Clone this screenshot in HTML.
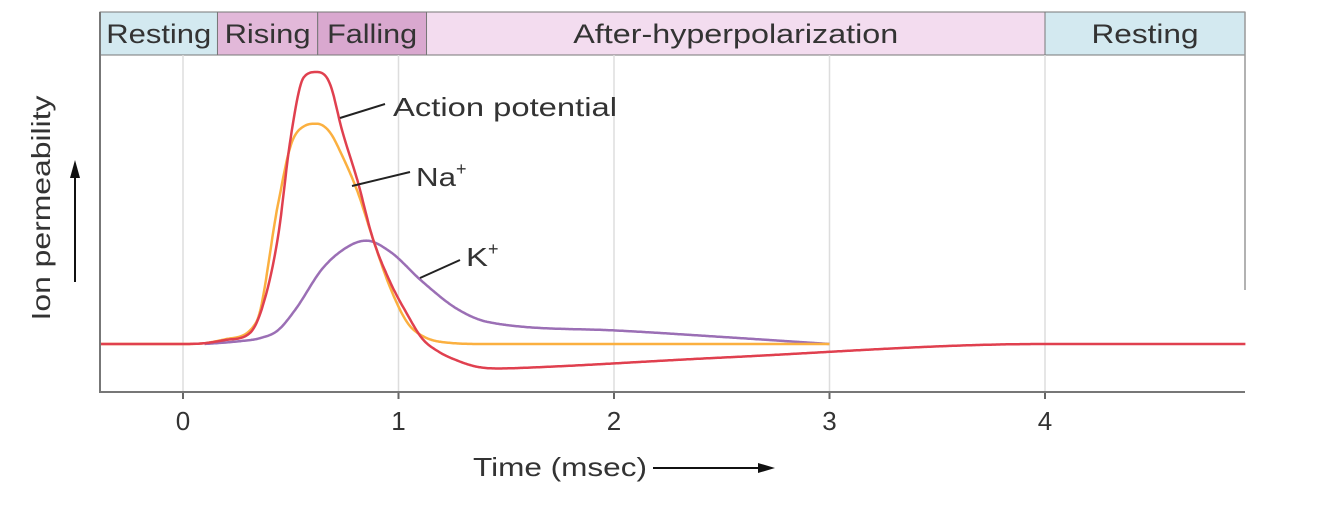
<!DOCTYPE html>
<html><head><meta charset="utf-8"><style>
body{margin:0;background:#fff;width:1334px;height:518px;overflow:hidden}
svg{display:block;font-family:"Liberation Sans",sans-serif}
</style></head><body>
<svg id="chart" width="1334" height="518" viewBox="0 0 1334 518">
<g id="bands"></g>
<g id="grid"></g>
<g id="series"></g>
<g id="ann"></g>
<g id="axes"></g>
</svg>
<script>
const phaseNames=["Resting","Rising","Falling","After-hyperpolarization","Resting"];
const phaseStart=[-0.385,0.16,0.625,1.13,4.0];
const phaseEnd=[0.16,0.625,1.13,4.0,4.93];
const phaseColors=["#d3e9f0","#e2b8d9","#d9a8cf","#f3dcef","#d3e9f0"];
const phaseTextW=[105,86,90,325,107];
const xTicks=[0,1,2,3,4];
const apT=[-0.385,0,0.1,0.2,0.31,0.37,0.44,0.50,0.56,0.62,0.68,0.74,0.81,0.88,0.96,1.04,1.11,1.19,1.27,1.36,1.46,1.6,2.5,4.0,4.93];
const apV=[0,0,0.3,1.5,4,14,39,76,98,100,96,78,60,39,23,11,2,-3,-6,-8.3,-9,-8.7,-5,0,0];
const naT=[-0.385,0,0.1,0.2,0.34,0.44,0.50,0.56,0.62,0.68,0.74,0.81,0.88,0.96,1.04,1.11,1.24,1.4,3.0];
const naV=[0,0,0.3,1.8,8,51,73,80,81,78,69,56,39,21,8,3,0.4,0,0];
const kT=[0.1,0.26,0.36,0.44,0.52,0.65,0.77,0.85,0.96,1.11,1.27,1.42,2.0,2.5,3.0];
const kV=[0,1,2.2,5,12.5,28,36,38,34,23,13,8,5,2.6,0];
const NS="http://www.w3.org/2000/svg";
const X=t=>183+t*215.5, Y=v=>344-v*2.72;
function el(tag,attrs,parent,txt){const e=document.createElementNS(NS,tag);for(const k in attrs)e.setAttribute(k,attrs[k]);if(txt!==undefined)e.textContent=txt;parent.appendChild(e);return e;}
const bands=document.getElementById('bands');
phaseNames.forEach((n,i)=>{
 const x0=Math.max(100,X(phaseStart[i])),x1=Math.min(1245,X(phaseEnd[i]));
 const r=el('rect',{x:x0,y:12,width:x1-x0,height:43,fill:phaseColors[i],stroke:"#777","stroke-width":1},bands);
 
 
 const t=el('text',{x:(x0+x1)/2,y:43,"text-anchor":"middle","font-size":27,fill:"#333",textLength:phaseTextW[i],lengthAdjust:"spacingAndGlyphs"},bands,n);
 
 
});
const grid=document.getElementById('grid'),axes=document.getElementById('axes');
xTicks.forEach(v=>{
 const g=el('line',{x1:X(v),x2:X(v),y1:55,y2:392,stroke:"#ddd","stroke-width":1.5},grid);
 
 
 el('line',{x1:X(v),x2:X(v),y1:392,y2:399,stroke:"#666","stroke-width":2},axes);
 const t=el('text',{x:X(v),y:430,"text-anchor":"middle","font-size":26,fill:"#333"},axes,String(v));
 
 
});
el('line',{x1:100,x2:100,y1:12,y2:393,stroke:"#777","stroke-width":2},axes);
el('line',{x1:100,x2:1245,y1:392,y2:392,stroke:"#777","stroke-width":2},axes);
el('line',{x1:1245,x2:1245,y1:12,y2:290,stroke:"#999","stroke-width":1.5},axes);
const xt=el('text',{x:473,y:476,"font-size":26,fill:"#333",textLength:174,lengthAdjust:"spacingAndGlyphs"},axes,"Time (msec)");


el('line',{x1:653,x2:760,y1:468,y2:468,stroke:"#111","stroke-width":2},axes);
el('polygon',{points:"775,468 758,463 758,473",fill:"#111"},axes);
const yt=el('text',{x:0,y:0,transform:"translate(50,208) rotate(-90)","text-anchor":"middle","font-size":26,fill:"#333",textLength:225,lengthAdjust:"spacingAndGlyphs"},axes,"Ion permeability");


el('line',{x1:75,x2:75,y1:282,y2:175,stroke:"#111","stroke-width":2},axes);
el('polygon',{points:"75,160 70,178 80,178",fill:"#111"},axes);
const series=document.getElementById('series');
function mono(T,V){
 const n=T.length,d=[],m=new Array(n);
 for(let i=0;i<n-1;i++)d.push((V[i+1]-V[i])/(T[i+1]-T[i]));
 m[0]=d[0];m[n-1]=d[n-2];
 for(let i=1;i<n-1;i++){m[i]=(d[i-1]*d[i]<=0)?0:(d[i-1]+d[i])/2;}
 for(let i=0;i<n-1;i++){if(d[i]===0){m[i]=0;m[i+1]=0;continue;}const a=m[i]/d[i],b=m[i+1]/d[i],s=a*a+b*b;if(s>9){const tt=3/Math.sqrt(s);m[i]=tt*a*d[i];m[i+1]=tt*b*d[i];}}
 let path="";
 for(let i=0;i<n-1;i++){const h=T[i+1]-T[i];const steps=Math.max(2,Math.ceil(h/0.005));
  for(let s=(i?1:0);s<=steps;s++){const u=s/steps,u2=u*u,u3=u2*u;
   const v=(2*u3-3*u2+1)*V[i]+(u3-2*u2+u)*h*m[i]+(-2*u3+3*u2)*V[i+1]+(u3-u2)*h*m[i+1];
   path+=(path?"L":"M")+X(T[i]+u*h).toFixed(1)+","+Y(v).toFixed(1);}}
 return path;}
const k=el('path',{d:mono(kT,kV),fill:"none",stroke:"#9b6fb5","stroke-width":2.5},series);


const na=el('path',{d:mono(naT,naV),fill:"none",stroke:"#fbb040","stroke-width":2.5},series);


const ap=el('path',{d:mono(apT,apV),fill:"none",stroke:"#e0404f","stroke-width":2.5},series);


const ann=document.getElementById('ann');
[[340,118,385,104,393,116,"Action potential","ap-annotation",224],[352,186,410,172,416,186,"Na","na-annotation",40],[420,278,460,260,466,266,"K","k-annotation",22]].forEach(a=>{
 el('line',{x1:a[0],y1:a[1],x2:a[2],y2:a[3],stroke:"#222","stroke-width":2},ann);
 const t=el('text',{x:a[4],y:a[5],"font-size":26,fill:"#333"},ann);
 
 
 el('tspan',{textLength:a[8],lengthAdjust:"spacingAndGlyphs"},t,a[6]);
 if(a[6]!=="Action potential"){el('tspan',{dy:-11,"font-size":18},t,"+");}
});
</script>
</body></html>
